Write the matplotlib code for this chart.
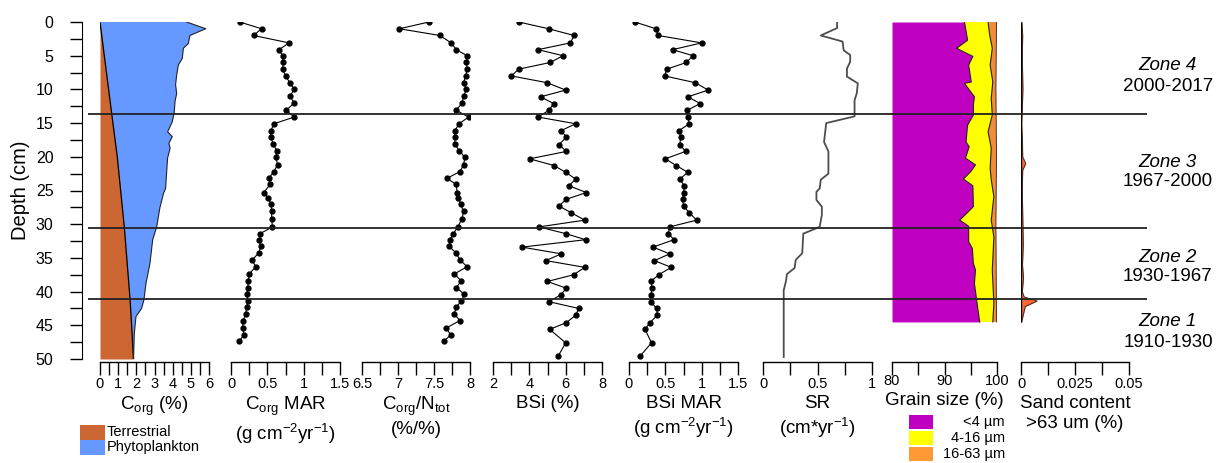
import numpy as np
import matplotlib
matplotlib.use("Agg")
import matplotlib.pyplot as plt
from matplotlib.patches import Rectangle
from matplotlib.transforms import blended_transform_factory

plt.rcParams["font.family"] = "Liberation Sans"
plt.rcParams["mathtext.fontset"] = "custom"
plt.rcParams["mathtext.rm"] = "Liberation Sans"
plt.rcParams["mathtext.it"] = "Liberation Sans:italic"

# Profundidades de las muestras (cm)
dep_c = [0.0, 1.0, 2.0, 3.1, 4.1, 5.0, 6.0, 7.0, 8.0, 9.0, 10.0, 11.0, 12.0, 13.1, 14.1, 15.1,
         16.1, 17.1, 18.1, 19.1, 20.1, 21.2, 22.2, 23.2, 24.1, 25.3, 26.1, 27.0, 28.1, 29.2,
         30.4, 31.4, 32.3, 33.3, 34.3, 35.3, 36.3, 37.4, 38.4, 39.4, 40.4, 41.4, 42.3, 43.3,
         44.3, 45.4, 46.4, 47.4]
dep_b = [0.0, 1.0, 2.0, 3.1, 4.1, 5.0, 6.0, 7.0, 8.0, 9.0, 10.1, 11.1, 12.1, 13.1, 14.1, 15.1,
         16.1, 17.1, 18.2, 19.2, 20.3, 21.3, 22.3, 23.3, 24.3, 25.3, 26.3, 27.3, 28.3, 29.4,
         30.4, 31.4, 32.3, 33.4, 34.4, 35.4, 36.4, 37.5, 38.5, 39.5, 40.5, 41.5, 42.5, 43.5,
         44.6, 45.6, 47.6, 49.6]
# Corg MAR y Corg/Ntot
corg_mar = [0.12, 0.42, 0.31, 0.80, 0.66, 0.71, 0.72, 0.71, 0.75, 0.81, 0.87, 0.81, 0.87, 0.76,
            0.87, 0.59, 0.55, 0.55, 0.58, 0.63, 0.62, 0.64, 0.59, 0.52, 0.54, 0.45, 0.51, 0.55,
            0.56, 0.56, 0.57, 0.40, 0.39, 0.41, 0.38, 0.29, 0.34, 0.25, 0.24, 0.23, 0.22, 0.23,
            0.22, 0.20, 0.17, 0.16, 0.18, 0.11]
cn = [7.43, 7.02, 7.58, 7.74, 7.81, 7.96, 7.95, 7.96, 7.94, 7.91, 7.95, 7.91, 7.89, 7.81, 7.98,
      7.85, 7.79, 7.79, 7.79, 7.85, 7.93, 7.91, 7.86, 7.68, 7.81, 7.82, 7.84, 7.87, 7.91, 7.89,
      7.83, 7.77, 7.72, 7.71, 7.81, 7.86, 7.96, 7.78, 7.88, 7.81, 7.92, 7.88, 7.81, 7.78, 7.86,
      7.67, 7.73, 7.64]
# BSi y BSi MAR
bsi = [3.41, 5.06, 6.46, 6.26, 4.48, 5.85, 5.16, 3.41, 3.01, 4.97, 6.0, 4.62, 5.34, 5.08, 4.48,
       6.55, 5.76, 6.04, 5.63, 6.04, 4.02, 5.36, 6.0, 6.55, 6.18, 7.14, 6.04, 5.63, 6.31, 7.05,
       4.53, 6.0, 7.10, 3.60, 5.76, 4.90, 7.05, 6.44, 4.99, 6.04, 5.72, 5.08, 6.72, 6.55, 6.04,
       5.12, 6.0, 5.58]
bsi_mar = [0.08, 0.37, 0.40, 1.00, 0.60, 0.88, 0.79, 0.52, 0.49, 0.91, 1.09, 0.81, 0.98, 0.80,
           0.81, 0.83, 0.69, 0.71, 0.70, 0.78, 0.50, 0.65, 0.81, 0.70, 0.76, 0.75, 0.74, 0.75,
           0.83, 0.93, 0.56, 0.54, 0.62, 0.33, 0.56, 0.35, 0.58, 0.41, 0.30, 0.32, 0.30, 0.30,
           0.38, 0.39, 0.29, 0.22, 0.31, 0.15]
# Corg total y terrestre
corg_dep = [0, 1.0, 2.0, 3.2, 3.9, 5.4, 6.4, 7.9, 9.3, 10.6, 11.8, 13.3, 14.8, 16.3, 17.0, 18.0,
            18.7, 20.2, 22.2, 24.7, 25.4, 27.5, 30.4, 32.3, 35.8, 38.8, 41.2, 42.5, 43.7, 46.2,
            49.6, 50]
corg_tot = [4.77, 5.82, 4.95, 4.86, 4.59, 4.53, 4.31, 4.22, 4.16, 4.22, 4.13, 4.09, 3.98, 3.72,
            3.98, 3.79, 3.86, 3.72, 3.67, 3.61, 3.50, 3.30, 3.12, 2.90, 2.75, 2.53, 2.42, 2.29,
            1.98, 1.89, 1.85, 1.85]
terr_dep = [0, 13.5, 20, 30.5, 41, 44, 50]
terr = [0, 0.64, 0.95, 1.34, 1.65, 1.72, 1.84]
# Tasa de sedimentacion
sr_dep = [0, 0.9, 2.0, 2.9, 4.2, 4.9, 5.9, 6.9, 8.1, 9.1, 10.6, 11.6, 14.0, 15.0, 17.8, 19.2,
          22.5, 23.4, 24.7, 25.2, 26.4, 27.4, 28.6, 30.4, 31.4, 34.3, 35.3, 36.5, 37.4, 38.5,
          39.8, 41.0, 49.7]
sr = [0.68, 0.68, 0.53, 0.73, 0.74, 0.80, 0.80, 0.77, 0.77, 0.87, 0.86, 0.84, 0.84, 0.58, 0.56,
      0.60, 0.60, 0.53, 0.52, 0.49, 0.49, 0.54, 0.54, 0.52, 0.37, 0.36, 0.30, 0.29, 0.22, 0.21,
      0.19, 0.19, 0.19]
# Granulometria acumulada
g1_dep = [0, 2.7, 3.9, 5.1, 6.4, 8.9, 9.1, 11.1, 12.3, 13.8, 15.3, 17.8, 18.5, 20.2, 21.2, 22.2,
          23.3, 24.3, 27.4, 29.4, 30.3, 32.6, 33.6, 35.8, 36.8, 38.8, 41.7, 44.5]
g1 = [93.8, 94.4, 92.3, 95.4, 94.6, 95.1, 93.8, 95.7, 95.5, 95.5, 94.4, 94.1, 94.7, 94.0, 95.9,
      95.0, 93.6, 95.4, 95.5, 92.9, 94.6, 94.6, 95.3, 95.5, 95.9, 95.7, 96.2, 96.7]
g2_dep = [0, 1.9, 3.9, 6.4, 8.9, 11.3, 13.8, 16.3, 18.7, 21.7, 23.4, 25.9, 29.4, 31.9, 36.8,
          41.7, 44.5]
g2 = [98.3, 98.6, 99.1, 98.7, 99.2, 98.9, 99.1, 98.3, 98.9, 98.7, 98.9, 99.4, 98.9, 99.4, 99.1,
      99.4, 99.2]
g3_dep = [0, 10, 20, 30, 44.5]
g3 = [99.9, 99.8, 99.9, 99.8, 99.9]
# Arena >63 um
sand_dep = [0, 2, 5, 10, 13, 15, 18, 20, 21, 22, 25, 30, 33, 36, 38, 40, 40.8, 41.4, 42.2, 44.5]
sand = [0.0004, 0.0008, 0.0006, 0.0009, 0.0006, 0.0003, 0.0007, 0.0008, 0.0022, 0.0008, 0.0006,
        0.0009, 0.0011, 0.0007, 0.0012, 0.0006, 0.0015, 0.0075, 0.0020, 0.0003]
# Zonas
zone_bounds = [13.6, 30.5, 41.1]
zone_names = ["Zone 4", "Zone 3", "Zone 2", "Zone 1"]
zone_years = ["2000-2017", "1967-2000", "1930-1967", "1910-1930"]

W, H = 1224, 463
fig = plt.figure(figsize=(W/100, H/100), dpi=100)
ytop, ybot = 22, 359

def panel(x0, x1):
    return fig.add_axes([x0/W, 1-ybot/H, (x1-x0)/W, (ybot-ytop)/H])

def estilo(ax, lim, mayores, menores, etiqueta, pad=2):
    ax.set_xlim(lim)
    ax.set_ylim(50, 0)
    for s in ["top", "right", "left"]:
        ax.spines[s].set_visible(False)
    ax.spines["bottom"].set_position(("outward", 2))
    ax.spines["bottom"].set_linewidth(1)
    ax.set_xticks(mayores)
    ax.set_xticklabels(["%g" % v for v in mayores])
    ax.set_xticks(menores, minor=True)
    ax.tick_params(axis="x", which="both", length=9, width=1, labelsize=10.5, pad=pad)
    ax.set_yticks([])
    ax.set_xlabel(etiqueta, fontsize=13.5, labelpad=3)
    ax.patch.set_alpha(0)

# Panel 1: Corg
ax1 = panel(100, 209)
ax1.fill(np.r_[terr, corg_tot[::-1]], np.r_[terr_dep, corg_dep[::-1]], color="#6699FF", lw=0)
ax1.fill_betweenx(terr_dep, 0, terr, color="#CC6633", lw=0)
ax1.plot(terr, terr_dep, color="black", lw=0.9)
ax1.plot(corg_tot, corg_dep, color="#222222", lw=0.8)
estilo(ax1, (0, 6), np.arange(0, 7, 1), np.arange(0, 6.5, 0.5), r"C$_{\mathrm{org}}$ (%)")
ax1.spines["left"].set_visible(True)
ax1.spines["left"].set_position(("outward", 13))
ax1.set_yticks(np.arange(0, 51, 5))
ax1.set_yticks(np.arange(0, 51, 2.5), minor=True)
ax1.tick_params(axis="y", which="both", length=8.5, width=1, labelsize=11.5, pad=12)
ax1.set_ylabel("Depth (cm)", fontsize=14.5, labelpad=4)

# Panel 2: Corg MAR
ax2 = panel(231, 340)
ax2.plot(corg_mar, dep_c, color="black", lw=0.8, marker="o", markersize=3.5)
estilo(ax2, (0, 1.5), [0, 0.5, 1, 1.5], np.arange(0, 1.6, 0.25),
       "C$_{\\mathrm{org}}$ MAR\n(g cm$^{-2}$yr$^{-1}$)")

# Panel 3: Corg/Ntot
ax3 = panel(362, 470)
ax3.plot(cn, dep_c, color="black", lw=0.8, marker="o", markersize=3.5)
estilo(ax3, (6.5, 8), [6.5, 7, 7.5, 8], np.arange(6.5, 8.1, 0.25),
       "C$_{\\mathrm{org}}$/N$_{\\mathrm{tot}}$\n(%/%)")

# Panel 4: BSi
ax4 = panel(493, 602)
ax4.plot(bsi, dep_b, color="black", lw=0.8, marker="o", markersize=3.5)
estilo(ax4, (2, 8), [2, 4, 6, 8], np.arange(2, 9, 1), "BSi (%)")

# Panel 5: BSi MAR
ax5 = panel(629, 738)
ax5.plot(bsi_mar, dep_b, color="black", lw=0.8, marker="o", markersize=3.5)
estilo(ax5, (0, 1.5), [0, 0.5, 1, 1.5], np.arange(0, 1.6, 0.25),
       "BSi MAR\n(g cm$^{-2}$yr$^{-1}$)")

# Panel 6: SR
ax6 = panel(763, 872)
ax6.plot(sr, sr_dep, color="#4d4d4d", lw=1.3)
estilo(ax6, (0, 1), [0, 0.5, 1], np.arange(0, 1.1, 0.25), "SR\n(cm*yr$^{-1}$)")

# Panel 7: Granulometria
ax7 = panel(892, 997)
ax7.fill_betweenx(g1_dep, 80, g1, color="#C000C0", lw=0)
ax7.fill(np.r_[g1, g2[::-1]], np.r_[g1_dep, g2_dep[::-1]], color="#FFFF00", lw=0)
ax7.fill(np.r_[g2, g3[::-1]], np.r_[g2_dep, g3_dep[::-1]], color="#F28C38", lw=0)
ax7.plot(g1, g1_dep, color="#222222", lw=0.8)
ax7.plot(g2, g2_dep, color="#222222", lw=0.8)
ax7.plot(g3, g3_dep, color="#222222", lw=0.6)
estilo(ax7, (80, 100), [80, 90, 100], np.arange(80, 101, 5), "Grain size (%)", pad=0)

# Panel 8: Arena
ax8 = panel(1021, 1129)
ax8.fill_betweenx(sand_dep, 0, sand, color="#FF6633", lw=0)
ax8.plot(sand, sand_dep, color="#333333", lw=0.7)
ax8.vlines(0, sand_dep[0], sand_dep[-1], color="black", lw=1)
estilo(ax8, (0, 0.05), [0, 0.025, 0.05], np.arange(0, 0.051, 0.0125),
       "Sand content\n>63 um (%)")

# Lineas de zonas
axz = fig.add_axes([88/W, 1-ybot/H, (1147-88)/W, (ybot-ytop)/H])
axz.set_ylim(50, 0)
axz.axis("off")
for z in zone_bounds:
    axz.axhline(z, color="#222222", lw=1.3)
tz = blended_transform_factory(fig.transFigure, axz.transData)
for nombre, anios, d1, d2 in zip(zone_names, zone_years, [6.4, 20.8, 34.9, 44.5], [9.5, 23.7, 37.8, 47.6]):
    axz.text(1168/W, d1, nombre, transform=tz, ha="center", va="center", fontsize=13.5,
             style="italic", clip_on=False)
    axz.text(1168/W, d2, anios, transform=tz, ha="center", va="center", fontsize=13.5,
             clip_on=False)

# Leyenda Corg
for i, (lab, col) in enumerate([("Terrestrial", "#CC6633"), ("Phytoplankton", "#6699FF")]):
    y0 = 1 - (440 + 15*i)/H
    fig.add_artist(Rectangle((80/W, y0), 25/W, 15/H, transform=fig.transFigure,
                             facecolor=col, edgecolor="none"))
    fig.text(107/W, y0 + 7.5/H, lab, ha="left", va="center", fontsize=10.5)

# Leyenda granulometria
for i, (lab, col) in enumerate([("<4 µm", "#C000C0"), ("4-16 µm", "#FFFF00"), ("16-63 µm", "#FF9933")]):
    y0 = 1 - (429 + 16*i)/H
    fig.add_artist(Rectangle((909/W, y0), 24/W, 14/H, transform=fig.transFigure,
                             facecolor=col, edgecolor="none"))
    fig.text(1005/W, y0 + 7/H, lab, ha="right", va="center", fontsize=10.5)

plt.savefig("out.png", dpi=100)
